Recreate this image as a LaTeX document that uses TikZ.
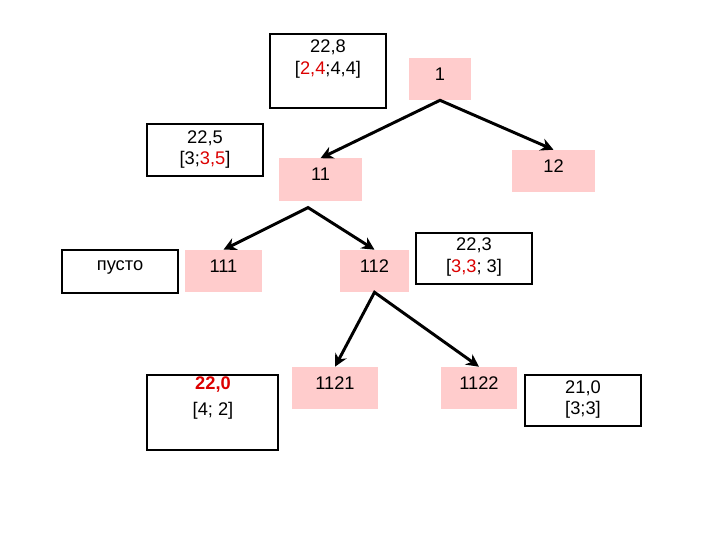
\documentclass[tikz,border=0pt]{standalone}
\usepackage{fontspec}
\setmainfont{Liberation Sans}
\usetikzlibrary{arrows.meta, positioning}
\definecolor{pinkfill}{RGB}{255,204,204}
\definecolor{redtxt}{RGB}{220,0,0}
\tikzset{
  numtext/.style={font=\fontsize{13}{15.6}\selectfont, align=center, inner sep=0pt},
  treenode/.style={numtext, fill=pinkfill, text height=0.55cm, text depth=0.5cm},
  whitebox/.style={draw=black, line width=1.4pt, fill=white, minimum width=2.9cm, inner sep=0pt},
  arr/.style={line width=2.1pt, {Stealth[length=9pt,width=9pt]}-{Stealth[length=9pt,width=9pt]}}
}

\begin{document}
\begin{tikzpicture}[x=0.025cm, y=-0.025cm]
    \useasboundingbox (0,0) rectangle (720,540);

    % --- tree nodes ---
    \node[treenode, minimum width=1.55cm] (n1) at (440,79) {1};
    \node[treenode, minimum width=2.075cm] (n11) at (320.5,179.5) {11};
    \node[treenode, minimum width=2.075cm] (n12) at (553.5,171) {12};
    \node[treenode, minimum width=1.925cm] (n111) at (223.5,271) {111};
    \node[treenode, minimum width=1.725cm] (n112) at (374.5,271) {112};
    \node[treenode, minimum width=2.15cm] (n1121) at (335,388) {1121};
    \node[treenode, minimum width=1.9cm] (n1122) at (479,388) {1122};

    % --- value boxes ---
    \node[whitebox, minimum height=1.85cm] (b228) at (328,71) {};
    \node[numtext] (t228) at (328,59) {22,8\\{[}\textcolor{redtxt}{2,4};4,4{]}};

    \node[whitebox, minimum height=1.3cm] (b225) at (205,150) {};
    \node[numtext] (t225) at (205,149.5) {22,5\\{[}3;\textcolor{redtxt}{3,5}{]}};

    \node[whitebox, minimum height=1.075cm] (bempty) at (120,271.5) {};
    \node[numtext] (tempty) at (120,267) {пусто};

    \node[whitebox, minimum height=1.275cm] (b223) at (474,258.5) {};
    \node[numtext] (t223) at (474,257) {22,3\\{[}\textcolor{redtxt}{3,3}; 3{]}};

    \node[whitebox, minimum width=3.275cm, minimum height=1.875cm] (b220) at (212.5,412.5) {};
    \node[numtext] (t220) at (213,398) {\textbf{\textcolor{redtxt}{22,0}}\\[0.1cm]{[}4; 2{]}};

    \node[whitebox, minimum height=1.275cm] (b210) at (583,400.5) {};
    \node[numtext] (t210) at (583,399.5) {21,0\\{[}3;3{]}};

    % --- arrows ---
    \coordinate (f11) at ([shift={(-0.31cm,-0.17cm)}]n11.south);
    \draw[arr] (n11.north) -- (n1.south) -- (n12.north);
    \draw[arr] (n111.north) -- (f11) -- (n112.north);
    \draw[arr] (n1121.north) -- (n112.south) -- (n1122.north);
\end{tikzpicture}
\end{document}
